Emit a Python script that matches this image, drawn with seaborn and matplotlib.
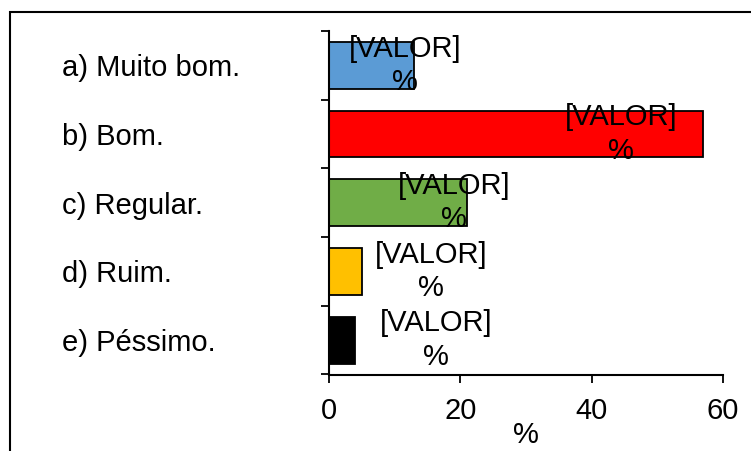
import matplotlib
matplotlib.use("Agg")
import matplotlib.pyplot as plt
import matplotlib.patches as mpatches
import pandas as pd
import seaborn as sns

# Chart data
categories = ["a) Muito bom.", "b) Bom.", "c) Regular.", "d) Ruim.", "e) Péssimo."]
values = [13, 57, 21, 5, 4]
bar_colors = ["#5B9BD5", "#FF0000", "#70AD47", "#FFC000", "#000000"]
label_text = "[VALOR]\n%"
x_ticks = [0, 20, 40, 60]

# label offsets from bar end (points), as placed in the original chart
label_dx = [-6.5, -59, -9.5, 50, 58]

FS = 21

sns.set_theme(style="white")
plt.rcParams["font.family"] = ["Liberation Sans", "DejaVu Sans"]
plt.rcParams["text.color"] = "black"
plt.rcParams["xtick.color"] = "black"
plt.rcParams["ytick.color"] = "black"
plt.rcParams["axes.labelcolor"] = "black"

df = pd.DataFrame({"cat": categories, "val": values})

fig = plt.figure(figsize=(7.51, 4.51), dpi=100)
ax = fig.add_axes([329 / 751, 1 - 374.5 / 451, (723 - 329) / 751, (374.5 - 31) / 451])

sns.barplot(data=df, x="val", y="cat", hue="cat", palette=bar_colors, legend=False,
            orient="h", width=0.68, saturation=1, edgecolor="black", linewidth=1.3, ax=ax)

ax.set_xlim(0, 60)
ax.set_ylim(4.5, -0.5)
ax.set_xticks(x_ticks)
ax.set_xticklabels([str(t) for t in x_ticks], fontsize=FS)
ax.set_xlabel("%", fontsize=FS, labelpad=-3)
ax.set_ylabel("")

# category labels left-aligned far to the left, boundary ticks as minor ticks
ax.set_yticks(range(len(categories)))
ax.set_yticklabels(categories, fontsize=FS)
for lab in ax.get_yticklabels():
    lab.set_horizontalalignment("left")
ax.tick_params(axis="y", which="major", length=0, pad=192)
ax.set_yticks([i - 0.5 for i in range(len(categories) + 1)], minor=True)
ax.tick_params(axis="y", which="minor", left=True, length=6, width=1.3, color="black")
ax.tick_params(axis="x", bottom=True, length=6, width=1.3, color="black", pad=10)

for side in ["top", "right"]:
    ax.spines[side].set_visible(False)
for side in ["left", "bottom"]:
    ax.spines[side].set_color("black")
    ax.spines[side].set_linewidth(1.5)

for i, v in enumerate(values):
    ax.annotate(label_text, xy=(v, i), xytext=(label_dx[i], 0), textcoords="offset points",
                ha="center", va="center", multialignment="center", fontsize=FS,
                color="black", linespacing=1.25)

# outer chart frame (cut off at right and bottom)
frame = mpatches.Rectangle((10 / 751, -0.1), 1.2, 1.1 - 12 / 451, transform=fig.transFigure,
                           fill=False, edgecolor="black", linewidth=1.5, clip_on=False)
fig.patches.append(frame)

fig.savefig("out.png", dpi=100)
